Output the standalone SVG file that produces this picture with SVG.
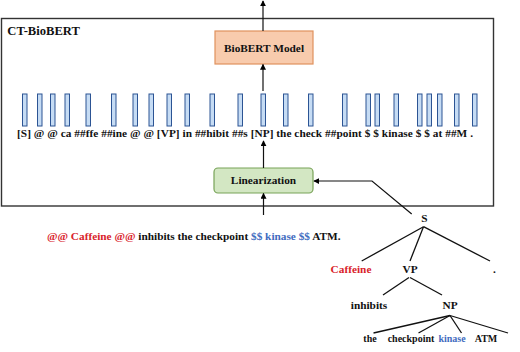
<svg xmlns="http://www.w3.org/2000/svg" width="520" height="352" viewBox="0 0 520 352">
<defs>
<marker id="ah" viewBox="0 0 8 8" refX="7" refY="4" markerWidth="6" markerHeight="6" markerUnits="userSpaceOnUse" orient="auto">
<path d="M0,0 L8,4 L0,8 z" fill="#000"/>
</marker>
<style>
text{font-family:"Liberation Serif","DejaVu Serif","Times New Roman",serif;font-weight:bold;font-size:11.3px;fill:#111}
.red{fill:#d9232b}
.blue{fill:#3f6cc0}
.sm{font-size:10px}
.bar{fill:#c6dcf4;stroke:#2c5494;stroke-width:1}
.ln{fill:none;stroke:#111;stroke-width:1.2}
.tr{fill:none;stroke:#111;stroke-width:1.3}
</style>
</defs>
<rect width="520" height="352" fill="#fff"/>
<g font-family="Liberation Serif, DejaVu Serif, serif">
<g id="ct-biobert">
<rect x="1.5" y="18.5" width="492" height="187.5" fill="none" stroke="#333" stroke-width="1.4"/>
<text x="7.3" y="35" style="font-size:12.6px">CT-BioBERT</text>
</g>
<g id="biobert-model">
<rect x="215" y="31" width="98" height="33" fill="#f8cbad" stroke="#e0925e" stroke-width="1.2"/>
<text x="264" y="51.7" text-anchor="middle">BioBERT Model</text>
</g>
<g id="tokens">
<rect class="bar" x="22.5" y="94" width="4.5" height="32"/>
<rect class="bar" x="37.5" y="94" width="4.5" height="32"/>
<rect class="bar" x="50.5" y="94" width="4.5" height="32"/>
<rect class="bar" x="65" y="94" width="4.5" height="32"/>
<rect class="bar" x="86" y="94" width="4.5" height="32"/>
<rect class="bar" x="111.5" y="94" width="4.5" height="32"/>
<rect class="bar" x="133" y="94" width="4.5" height="32"/>
<rect class="bar" x="149" y="94" width="4.5" height="32"/>
<rect class="bar" x="167" y="94" width="4.5" height="32"/>
<rect class="bar" x="185" y="94" width="4.5" height="32"/>
<rect class="bar" x="210" y="94" width="4.5" height="32"/>
<rect class="bar" x="238" y="94" width="4.5" height="32"/>
<rect class="bar" x="261" y="94" width="4.5" height="32"/>
<rect class="bar" x="283.5" y="94" width="4.5" height="32"/>
<rect class="bar" x="308.5" y="94" width="4.5" height="32"/>
<rect class="bar" x="342.5" y="94" width="4.5" height="32"/>
<rect class="bar" x="366" y="94" width="4.5" height="32"/>
<rect class="bar" x="375" y="94" width="4.5" height="32"/>
<rect class="bar" x="394" y="94" width="4.5" height="32"/>
<rect class="bar" x="417.5" y="94" width="4.5" height="32"/>
<rect class="bar" x="427" y="94" width="4.5" height="32"/>
<rect class="bar" x="437.5" y="94" width="4.5" height="32"/>
<rect class="bar" x="454.5" y="94" width="4.5" height="32"/>
<rect class="bar" x="472.5" y="94" width="4.5" height="32"/>
<text x="17" y="137" textLength="456" lengthAdjust="spacing">[S] @ @ ca ##ffe ##ine @ @ [VP] in ##hibit ##s [NP] the check ##point $ $ kinase $ $ at ##M .</text>
</g>
<g id="linearization">
<rect x="214" y="168" width="99" height="25" rx="4" fill="#d3e7c3" stroke="#78a358" stroke-width="1.2"/>
<text x="263.5" y="184" text-anchor="middle">Linearization</text>
</g>
<g id="sentence">
<text x="47" y="240"><tspan class="red">@@ Caffeine @@</tspan> inhibits the checkpoint <tspan class="blue">$$ kinase $$</tspan> ATM.</text>
</g>
<g id="tree">
<text x="424.5" y="221.7" text-anchor="middle">S</text>
<text x="351" y="272.7" text-anchor="middle" class="red">Caffeine</text>
<text x="410" y="272.7" text-anchor="middle">VP</text>
<text x="494.5" y="272.7" text-anchor="middle">.</text>
<text x="369" y="309.3" text-anchor="middle">inhibits</text>
<text x="450" y="309.3" text-anchor="middle">NP</text>
<text x="370" y="341.7" text-anchor="middle" class="sm">the</text>
<text x="411" y="341.7" text-anchor="middle" class="sm">checkpoint</text>
<text x="452" y="341.7" text-anchor="middle" class="sm blue">kinase</text>
<text x="486" y="341.7" text-anchor="middle" class="sm">ATM</text>
</g>
<g id="connectors">
<line class="ln" x1="263" y1="31" x2="263" y2="1" marker-end="url(#ah)"/>
<line class="ln" x1="263" y1="91" x2="263" y2="64.5" marker-end="url(#ah)"/>
<line class="ln" x1="263.5" y1="168" x2="263.5" y2="141" marker-end="url(#ah)"/>
<line class="ln" x1="263.5" y1="215" x2="263.5" y2="193.5" marker-end="url(#ah)"/>
<polyline class="ln" points="411.7,214 372,181 314,181" marker-end="url(#ah)"/>
<line class="tr" x1="423.5" y1="226.7" x2="361.7" y2="261"/>
<line class="tr" x1="423.5" y1="226.7" x2="410" y2="261"/>
<line class="tr" x1="423.5" y1="226.7" x2="490" y2="261"/>
<line class="tr" x1="409" y1="277.5" x2="383" y2="295"/>
<line class="tr" x1="410" y1="277.5" x2="442" y2="295"/>
<line class="tr" x1="450" y1="315.5" x2="373.5" y2="333"/>
<line class="tr" x1="450" y1="315.5" x2="418.5" y2="333"/>
<line class="tr" x1="450" y1="315.5" x2="461.5" y2="333"/>
<line class="tr" x1="450" y1="315.5" x2="508" y2="333"/>
</g>
</g>
</svg>
